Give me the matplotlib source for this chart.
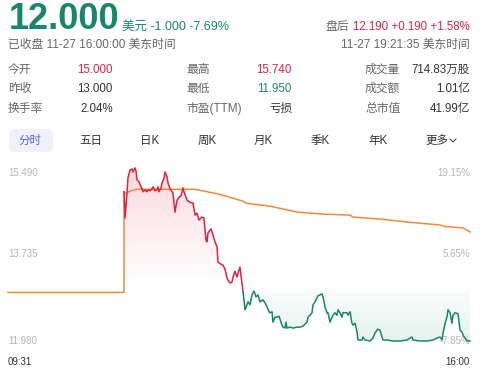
import matplotlib
matplotlib.use('Agg')
import matplotlib.pyplot as plt
import numpy as np
from matplotlib.patches import Polygon, FancyBboxPatch

plt.rcParams['font.family'] = ['Liberation Sans', 'Noto Sans CJK SC', 'DejaVu Sans']

# ---- data ----
base = 13.0          # prev close
y_ticks = [15.49, 13.735, 11.98]
x_labels = ['09:31', '16:00']
n_minutes = 389

# minutes after 09:31, last price
price_min = [97.7, 98.5, 100.2, 101, 102.7, 104.4, 105.3, 106.9, 107.8, 108.6,
             110.3, 112.8, 113.7, 115.4, 117, 117.9, 119.6, 121.2, 122.1, 123.8,
             125.5, 126.3, 127.1, 128.8, 129.7, 131.4, 132.2, 133.9, 134.7, 136.4,
             138.1, 138.9, 140.6, 142.3, 144, 145.7, 147.3, 148.2, 150.7, 153.2,
             155.8, 157.5, 159.1, 160.8, 163.3, 165, 166.7, 167.5, 168.4, 170.9,
             172.6, 174.3, 176, 176.8, 179.3, 181, 182.7, 184.4, 185.2, 186.9,
             188.6, 189.5, 191.1, 192.8, 193.7, 195.3, 197, 197.9,
             199.6, 201.2, 202.1, 203.8, 205.4, 207.1, 208.8, 210.5, 212.2, 214.7,
             216.4, 218.1, 219.8, 220.6, 222.3, 223.1, 224.8, 226.5, 228.2, 230.7,
             231.6, 233.2, 234.1, 234.9, 237.4, 240, 243.3, 245.9, 248.4, 250.1,
             251.8, 252.6, 254.3, 256, 256.8, 258.5, 260.2, 261, 262.7, 264.4,
             265.2, 266.9, 268.6, 269.4, 271.1, 272.8, 273.7, 275.3, 277, 277.9,
             279.5, 281.2, 282.1, 285.4, 286.3, 288, 289.6, 290.5, 292.2, 293.9,
             294.7, 298.1, 298.9, 300.6, 304.8, 307.3, 309, 310.7, 311.5, 313.2,
             314.9, 315.7, 319.1, 324.2, 330.1, 336, 338.5, 340.2, 341, 346.9,
             352.8, 357.9, 361.2, 363.7, 365.4, 366.3, 368, 369.6, 370.5, 372.2,
             373.8, 374.7, 376.4, 378.9, 380.6, 382.3, 383.1, 384.8, 386.5, 389]
price_val = [14.99, 14.46, 14.97, 15.27, 15.43, 15.45, 15.39, 15.47, 15.41, 15.23,
             15.19, 15.05, 14.99, 15.03, 14.99, 15.03, 15.01, 15.05, 15.09, 15.01,
             15.03, 15.09, 14.99, 15.07, 15.17, 15.27, 15.39, 15.29, 15.17, 15.05,
             14.99, 14.97, 14.58, 14.82, 14.88, 14.91, 15.07, 14.99, 14.82, 14.78,
             14.76, 14.52, 14.56, 14.42, 14.48, 14.46, 14.02, 13.98, 14.16, 14.24,
             14.12, 13.98, 13.88, 13.57, 13.53, 13.51, 13.43, 13.25, 13.21, 13.15,
             13.17, 13.27, 13.39, 13.27, 13.35, 13.47, 13.15, 12.97,
             12.61, 12.71, 12.77, 12.71, 12.91, 12.99, 12.87, 12.91, 12.77, 12.81,
             12.75, 12.67, 12.57, 12.55, 12.57, 12.36, 12.46, 12.46, 12.48, 12.30,
             12.26, 12.24, 12.36, 12.24, 12.26, 12.24, 12.26, 12.26, 12.28, 12.32,
             12.36, 12.46, 12.50, 12.55, 12.71, 12.77, 12.85, 12.89, 12.91, 12.93,
             12.87, 12.67, 12.55, 12.55, 12.36, 12.46, 12.50, 12.55, 12.50, 12.61,
             12.55, 12.46, 12.55, 12.55, 12.50, 12.57, 12.34, 12.30, 12.34, 12.16,
             12.00, 12.00, 12.06, 12.00, 11.98, 12.04, 12.14, 12.20, 12.22, 12.20,
             12.06, 12.00, 12.00, 11.98, 11.98, 12.00, 12.04, 12.06, 12.00, 11.98,
             11.98, 12.00, 12.04, 12.06, 12.00, 12.14, 12.34, 12.46, 12.61, 12.55,
             12.34, 12.50, 12.55, 12.53, 12.20, 12.16, 12.10, 12.04, 11.98, 11.98]

# average price line
avg_min = [0, 97.7, 97.7, 98.5, 102.7, 107.8, 157.5, 176, 186.9, 197.9, 200.4,
           220.6, 243.3, 265.2, 288, 290.5, 313.2, 336, 363.7, 368, 383.1, 389]
avg_val = [12.96, 12.96, 14.99, 14.95, 15.0, 15.04, 15.04, 14.95, 14.88, 14.80, 14.76,
           14.70, 14.58, 14.54, 14.52, 14.48, 14.44, 14.38, 14.32, 14.29, 14.26, 14.18]

header_price = '12.000'
header_chg = '美元 -1.000 -7.69%'
header_status = '已收盘 11-27 16:00:00 美东时间'
after_label = '盘后'
after_vals = '12.190 +0.190 +1.58%'
after_time = '11-27 19:21:35 美东时间'

stat_labels = [['今开', '昨收', '换手率'], ['最高', '最低', '市盈(TTM)'], ['成交量', '成交额', '总市值']]
stat_values = [['15.000', '13.000', '2.04%'], ['15.740', '11.950', '亏损'], ['714.83万股', '1.01亿', '41.99亿']]
tabs = ['分时', '五日', '日K', '周K', '月K', '季K', '年K', '更多']

GREEN = '#16876a'
RED = '#dc2343'
ORANGE = '#ee8b38'
DARK = '#333333'
GRAY = '#666666'
LIGHT = '#b4b4b4'

t = np.array(price_min)
p = np.array(price_val)
split = int(np.argmax(p < base))

fig = plt.figure(figsize=(4.8, 3.74), dpi=100)
bg = fig.add_axes([0, 0, 1, 1])
bg.set_xlim(0, 480)
bg.set_ylim(374, 0)
bg.axis('off')

# header
bg.text(9, 19, header_price, fontsize=26, fontweight='bold', color=GREEN, va='center', ha='left')
bg.text(122, 27, header_chg, fontsize=9, color=GREEN, va='center', ha='left')
bg.text(8, 45, header_status, fontsize=8.5, color=GRAY, va='center', ha='left')
bg.text(470, 27, after_vals, fontsize=8.3, color=RED, va='center', ha='right')
bg.text(349, 27, after_label, fontsize=8.5, color=GRAY, va='center', ha='right')
bg.text(470, 45, after_time, fontsize=8.5, color=GRAY, va='center', ha='right')

# stats grid
label_x = [8, 186, 365]
value_x = [113, 292, 470]
row_y = [70, 89, 109]
value_colors = [[RED, DARK, DARK], [RED, GREEN, DARK], [DARK, DARK, DARK]]
for c in range(3):
    for r in range(3):
        bg.text(label_x[c], row_y[r], stat_labels[c][r], fontsize=8.5, color=GRAY, va='center', ha='left')
        bg.text(value_x[c], row_y[r], stat_values[c][r], fontsize=8.3, color=value_colors[c][r],
                va='center', ha='right')

# tab row
bg.add_patch(FancyBboxPatch((9, 129), 44, 23, boxstyle='round,pad=0,rounding_size=6',
                            fc='#eef0fb', ec='none'))
tab_x = [30, 91, 150, 207, 263, 320, 378, 437]
for i, name in enumerate(tabs):
    bg.text(tab_x[i], 140.5, name, fontsize=8.3, color='#5468d4' if i == 0 else DARK,
            va='center', ha='center')
bg.plot([450, 453, 456], [139, 142, 139], color=DARK, lw=0.7)

# chart
ax = fig.add_axes([8 / 480, 33 / 374, 462 / 480, 174 / 374])
ax.set_xlim(0, n_minutes)
ax.set_ylim(y_ticks[-1], y_ticks[0])
ax.axis('off')

# gradient fills (red above base, green below)
red_verts = [(t[0], base)] + list(zip(t[:split + 1], p[:split + 1])) + [(t[split], base)]
red_poly = Polygon(red_verts, closed=True, fc='none', ec='none')
ax.add_patch(red_poly)
grad = np.zeros((100, 1, 4))
grad[:, 0, :3] = matplotlib.colors.to_rgb('#e8405a')
grad[:, 0, 3] = np.linspace(0.2, 0.0, 100)
im = ax.imshow(grad, extent=[t[0], t[split], base, y_ticks[0]], aspect='auto', zorder=1)
im.set_clip_path(red_poly)

green_verts = [(t[split], base)] + list(zip(t[split:], p[split:])) + [(t[-1], base)]
green_poly = Polygon(green_verts, closed=True, fc='none', ec='none')
ax.add_patch(green_poly)
grad2 = np.zeros((100, 1, 4))
grad2[:, 0, :3] = matplotlib.colors.to_rgb('#2a9a7a')
grad2[:, 0, 3] = np.linspace(0.03, 0.12, 100)
im2 = ax.imshow(grad2, extent=[t[split], t[-1], y_ticks[-1], base], aspect='auto', zorder=1)
im2.set_clip_path(green_poly)

ax.set_xlim(0, n_minutes)
ax.set_ylim(y_ticks[-1], y_ticks[0])

ax.axhline(y_ticks[-1], color='#f2a0a9', lw=0.9, ls=(0, (3, 2)), zorder=2)
ax.plot(avg_min, avg_val, color=ORANGE, lw=1.1, zorder=3, clip_on=False)
ax.plot(t[:split + 1], p[:split + 1], color=RED, lw=1.1, zorder=4, clip_on=False)
ax.plot(t[split:], p[split:], color=GREEN, lw=1.1, zorder=4, clip_on=False)

# axis labels
for i, yv in enumerate(y_ticks):
    pct = (yv - base) / base * 100
    off = -6 if i == 0 else 0
    ax.annotate(f'{yv:.3f}', (0, yv), xytext=(0, off), textcoords='offset pixels',
                fontsize=7, color=LIGHT, va='center', ha='left', annotation_clip=False)
    ax.annotate(f'{pct:.2f}%', (n_minutes, yv), xytext=(0, off), textcoords='offset pixels',
                fontsize=7, color=LIGHT, va='center', ha='right', annotation_clip=False, zorder=1)

bg.text(8, 362, x_labels[0], fontsize=7, color=DARK, va='center', ha='left')
bg.text(470, 362, x_labels[1], fontsize=7, color=DARK, va='center', ha='right')

fig.savefig('out.png', dpi=100)
